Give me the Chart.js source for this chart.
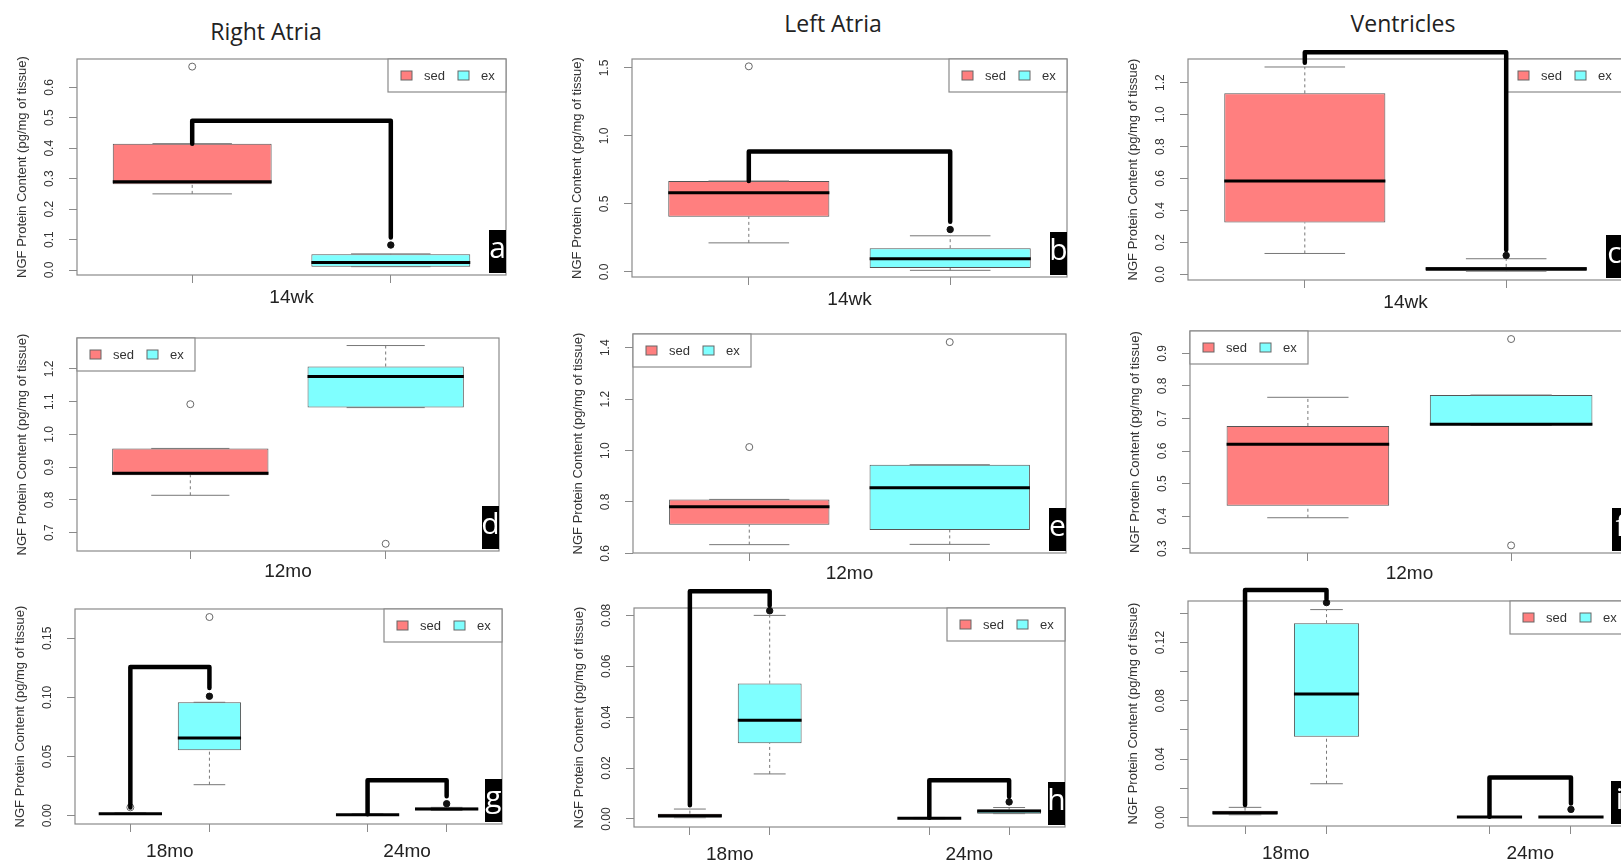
<!DOCTYPE html>
<html lang="en">
<head>
    <meta charset="UTF-8">
    <title>NGF Protein Content - Right Atria, Left Atria, Ventricles</title>
    <script src="https://cdn.jsdelivr.net/npm/chart.js"></script>
    <style>
        body {
            margin: 0;
            width: 1621px;
            height: 861px;
            overflow: hidden;
            position: relative;
            background: #fff;
        }

        .col-title {
            position: absolute;
            transform: translate(-50%, -50%);
            font-family: "Open Sans", sans-serif;
            font-size: 23px;
            color: #222;
            white-space: nowrap;
        }

        canvas {
            position: absolute;
        }
    </style>
</head>
<body>
    <div class="col-title" style="left: 266px; top: 31px;">Right Atria</div>
    <div class="col-title" style="left: 833px; top: 23px;">Left Atria</div>
    <div class="col-title" style="left: 1403px; top: 23px;">Ventricles</div>

    <script>
        // series and time points
        const seriesNames = ['sed', 'ex'];
        const seriesColors = ['#ff7f7f', '#7fffff'];
        const groupsWk = ['14wk'];
        const groupsMo = ['12mo'];
        const groupsOld = ['18mo', '24mo'];

        // boxes: [lower whisker, Q1, median, Q3, upper whisker], one row per time point
        // sig: [bracket start on sed, bracket top, bracket end on ex, dot on ex]

        // a - Right Atria 14wk
        const sedA = [[0.25, 0.282, 0.29, 0.415, 0.415]];
        const exA = [[0.011, 0.011, 0.025, 0.0515, 0.053]];
        const sedOutA = [[0.668]];
        const exOutA = [[]];
        const sigA = [[0.415, 0.49, 0.107, 0.082]];
        const yLimA = [-0.0164, 0.693];
        const yTicksA = [0, 0.1, 0.2, 0.3, 0.4, 0.5, 0.6];
        const yLabelsA = ['0.0', '0.1', '0.2', '0.3', '0.4', '0.5', '0.6'];

        // b - Left Atria 14wk
        const sedB = [[0.214, 0.406, 0.583, 0.669, 0.669]];
        const exB = [[0.012, 0.0295, 0.098, 0.175, 0.266]];
        const sedOutB = [[1.512]];
        const exOutB = [[]];
        const sigB = [[0.669, 0.885, 0.369, 0.312]];
        const yLimB = [-0.037, 1.566];
        const yTicksB = [0, 0.5, 1.0, 1.5];
        const yLabelsB = ['0.0', '0.5', '1.0', '1.5'];

        // c - Ventricles 14wk
        const sedC = [[0.131, 0.325, 0.585, 1.133, 1.298]];
        const exC = [[0.02, 0.022, 0.035, 0.047, 0.098]];
        const sedOutC = [[]];
        const exOutC = [[]];
        const sigC = [[1.325, 1.39, 0.152, 0.119]];
        const yLimC = [-0.035, 1.348];
        const yTicksC = [0, 0.2, 0.4, 0.6, 0.8, 1.0, 1.2];
        const yLabelsC = ['0.0', '0.2', '0.4', '0.6', '0.8', '1.0', '1.2'];

        // d - Right Atria 12mo
        const sedD = [[0.814, 0.8755, 0.881, 0.957, 0.957]];
        const exD = [[1.0816, 1.0816, 1.1765, 1.207, 1.271]];
        const sedOutD = [[1.092]];
        const exOutD = [[0.666]];
        const sigD = [null];
        const yLimD = [0.644, 1.294];
        const yTicksD = [0.7, 0.8, 0.9, 1.0, 1.1, 1.2];
        const yLabelsD = ['0.7', '0.8', '0.9', '1.0', '1.1', '1.2'];

        // e - Left Atria 12mo
        const sedE = [[0.634, 0.7115, 0.7815, 0.81, 0.81]];
        const exE = [[0.635, 0.691, 0.855, 0.945, 0.945]];
        const sedOutE = [[1.0137]];
        const exOutE = [[1.422]];
        const sigE = [null];
        const yLimE = [0.6015, 1.4535];
        const yTicksE = [0.6, 0.8, 1.0, 1.2, 1.4];
        const yLabelsE = ['0.6', '0.8', '1.0', '1.2', '1.4'];

        // f - Ventricles 12mo
        const sedF = [[0.395, 0.432, 0.621, 0.677, 0.765]];
        const exF = [[0.6795, 0.6795, 0.6826, 0.772, 0.772]];
        const sedOutF = [[]];
        const exOutF = [[0.944, 0.31]];
        const sigF = [null];
        const yLimF = [0.2867, 0.9687];
        const yTicksF = [0.3, 0.4, 0.5, 0.6, 0.7, 0.8, 0.9];
        const yLabelsF = ['0.3', '0.4', '0.5', '0.6', '0.7', '0.8', '0.9'];

        // g - Right Atria 18mo / 24mo
        const sedG = [[0.0011, 0.0011, 0.0017, 0.0023, 0.0023], [0.0003, 0.0004, 0.0008, 0.0012, 0.0014]];
        const exG = [[0.0262, 0.0553, 0.0657, 0.0959, 0.0959], [0.0045, 0.0045, 0.0056, 0.007, 0.007]];
        const sedOutG = [[0.007], []];
        const exOutG = [[0.168], []];
        const sigG = [[0.007, 0.1257, 0.108, 0.101], [0.0012, 0.0299, 0.0164, 0.0101]];
        const yLimG = [-0.00705, 0.1748];
        const yTicksG = [0, 0.05, 0.10, 0.15];
        const yLabelsG = ['0.00', '0.05', '0.10', '0.15'];

        // h - Left Atria 18mo / 24mo
        const sedH = [[0.0005, 0.0005, 0.0013, 0.0021, 0.0039], [0.0001, 0.0002, 0.0003, 0.0005, 0.0006]];
        const exH = [[0.0177, 0.0298, 0.03875, 0.0532, 0.08], [0.0021, 0.0021, 0.0031, 0.0037, 0.0045]];
        const sedOutH = [[], []];
        const exOutH = [[], []];
        const sigH = [[0.0054, 0.0895, 0.0838, 0.0818], [0.0005, 0.0152, 0.0087, 0.0067]];
        const yLimH = [-0.00315, 0.0829];
        const yTicksH = [0, 0.02, 0.04, 0.06, 0.08];
        const yLabelsH = ['0.00', '0.02', '0.04', '0.06', '0.08'];

        // i - Ventricles 18mo / 24mo
        const sedI = [[0.0018, 0.0018, 0.0032, 0.0046, 0.0069], [0, 0, 0.0002, 0.0004, 0.0004]];
        const exI = [[0.0231, 0.0553, 0.0846, 0.1333, 0.1426], [0, 0, 0.0002, 0.0004, 0.0004]];
        const sedOutI = [[], []];
        const exOutI = [[], []];
        const sigI = [[0.0085, 0.156, 0.150, 0.1474], [0.0005, 0.0274, 0.0096, 0.0055]];
        const yLimI = [-0.0059, 0.1485];
        const yTicksI = [0, 0.02, 0.04, 0.06, 0.08, 0.10, 0.12, 0.14];
        const yLabelsI = ['0.00', '', '0.04', '', '0.08', '', '0.12', ''];

        const yTitle = 'NGF Protein Content (pg/mg of tissue)';

        // plot frame per panel: left, top, width, height, x label padding
        const frames = {
            a: [77, 59, 429, 216, 4],
            b: [632, 59, 435, 218, 4],
            c: [1188, 59, 435, 221, 4],
            d: [77, 338, 422, 213, 2],
            e: [633, 334, 433, 219, 2],
            f: [1190, 331, 439, 222, 2],
            g: [75, 609, 427, 215, 9],
            h: [634, 608, 431, 219, 9],
            i: [1188, 601, 440, 225, 9]
        };

        const panels = [
            { letter: 'a', groups: groupsWk, sed: sedA, ex: exA, sedOut: sedOutA, exOut: exOutA, sig: sigA, yLim: yLimA, yTicks: yTicksA, yLabels: yLabelsA, legend: 'right' },
            { letter: 'b', groups: groupsWk, sed: sedB, ex: exB, sedOut: sedOutB, exOut: exOutB, sig: sigB, yLim: yLimB, yTicks: yTicksB, yLabels: yLabelsB, legend: 'right' },
            { letter: 'c', groups: groupsWk, sed: sedC, ex: exC, sedOut: sedOutC, exOut: exOutC, sig: sigC, yLim: yLimC, yTicks: yTicksC, yLabels: yLabelsC, legend: 'right' },
            { letter: 'd', groups: groupsMo, sed: sedD, ex: exD, sedOut: sedOutD, exOut: exOutD, sig: sigD, yLim: yLimD, yTicks: yTicksD, yLabels: yLabelsD, legend: 'left' },
            { letter: 'e', groups: groupsMo, sed: sedE, ex: exE, sedOut: sedOutE, exOut: exOutE, sig: sigE, yLim: yLimE, yTicks: yTicksE, yLabels: yLabelsE, legend: 'left' },
            { letter: 'f', groups: groupsMo, sed: sedF, ex: exF, sedOut: sedOutF, exOut: exOutF, sig: sigF, yLim: yLimF, yTicks: yTicksF, yLabels: yLabelsF, legend: 'left' },
            { letter: 'g', groups: groupsOld, sed: sedG, ex: exG, sedOut: sedOutG, exOut: exOutG, sig: sigG, yLim: yLimG, yTicks: yTicksG, yLabels: yLabelsG, legend: 'right' },
            { letter: 'h', groups: groupsOld, sed: sedH, ex: exH, sedOut: sedOutH, exOut: exOutH, sig: sigH, yLim: yLimH, yTicks: yTicksH, yLabels: yLabelsH, legend: 'right' },
            { letter: 'i', groups: groupsOld, sed: sedI, ex: exI, sedOut: sedOutI, exOut: exOutI, sig: sigI, yLim: yLimI, yTicks: yTicksI, yLabels: yLabelsI, legend: 'right' }
        ];

        const sansFamily = '"Liberation Sans", Arial, sans-serif';
        const gridGrey = '#8a8a8a';
        const tickLen = 8;
        const yTickSize = 12;
        const measureCtx = document.createElement('canvas').getContext('2d');

        // frame + legend under the marks, panel letter on top
        const panelDecor = {
            id: 'panelDecor',
            beforeDatasetsDraw(chart, args, opts) {
                const { ctx, chartArea: a } = chart;
                ctx.save();
                ctx.strokeStyle = gridGrey;
                ctx.lineWidth = 1.2;
                ctx.strokeRect(a.left, a.top, a.right - a.left, a.bottom - a.top);

                const lw = 118, lh = 33;
                const lx = opts.legend === 'right' ? a.right - lw : a.left;
                const ly = a.top;
                ctx.fillStyle = '#fff';
                ctx.fillRect(lx, ly, lw, lh);
                ctx.strokeRect(lx, ly, lw, lh);
                ctx.font = '13px ' + sansFamily;
                ctx.textBaseline = 'middle';
                ctx.textAlign = 'left';
                seriesNames.forEach((name, k) => {
                    const sx = lx + 13 + k * 57;
                    ctx.fillStyle = seriesColors[k];
                    ctx.fillRect(sx, ly + lh / 2 - 4.5, 11, 9);
                    ctx.strokeStyle = '#666';
                    ctx.lineWidth = 1;
                    ctx.strokeRect(sx, ly + lh / 2 - 4.5, 11, 9);
                    ctx.fillStyle = '#333';
                    ctx.fillText(name, sx + 23, ly + lh / 2 + 0.5);
                });
                ctx.restore();
            },
            afterDatasetsDraw(chart, args, opts) {
                const { ctx, chartArea: a } = chart;
                const bw = 17, bh = 43;
                const bx = a.right - bw, by = a.bottom - 2 - bh;
                ctx.save();
                ctx.fillStyle = '#000';
                ctx.fillRect(bx, by, bw, bh);
                ctx.beginPath();
                ctx.rect(bx, by, bw, bh);
                ctx.clip();
                ctx.fillStyle = '#fff';
                ctx.font = '30px "Open Sans", sans-serif';
                ctx.textAlign = 'center';
                ctx.textBaseline = 'middle';
                ctx.fillText(opts.letter, bx + bw / 2, by + bh / 2 - 2);
                ctx.restore();
            }
        };

        function buildDatasets(p) {
            const sedBoxes = [], exBoxes = [], medians = [], stems = [], caps = [];
            const outliers = [], brackets = [], dots = [];
            p.groups.forEach((g, i) => {
                const xs = 1 + 3 * i, xe = 2 + 3 * i;
                const pairs = [[p.sed[i], xs, sedBoxes, p.sedOut[i]], [p.ex[i], xe, exBoxes, p.exOut[i]]];
                pairs.forEach(([s, x, boxes, outs]) => {
                    boxes.push({ x: x, y: [s[1], s[3]] });
                    medians.push({ x: x - 0.4, y: s[2] }, { x: x + 0.4, y: s[2] }, { x: x, y: null });
                    stems.push({ x: x, y: s[0] }, { x: x, y: s[1] }, { x: x, y: null },
                               { x: x, y: s[3] }, { x: x, y: s[4] }, { x: x, y: null });
                    caps.push({ x: x - 0.2, y: s[0] }, { x: x + 0.2, y: s[0] }, { x: x, y: null },
                              { x: x - 0.2, y: s[4] }, { x: x + 0.2, y: s[4] }, { x: x, y: null });
                    outs.forEach(v => outliers.push({ x: x, y: v }));
                });
                const sg = p.sig[i];
                if (sg) {
                    brackets.push({ x: xs, y: sg[0] }, { x: xs, y: sg[1] }, { x: xe, y: sg[1] },
                                  { x: xe, y: sg[2] }, { x: xe, y: null });
                    dots.push({ x: xe, y: sg[3] });
                }
            });

            const boxStyle = {
                type: 'bar', grouped: false, categoryPercentage: 0.8, barPercentage: 2,
                borderColor: '#555', borderWidth: 1, borderSkipped: false, order: 6
            };
            const lineStyle = { type: 'line', pointRadius: 0, pointHitRadius: 0, tension: 0, fill: false, spanGaps: false };

            return [
                Object.assign({ label: seriesNames[0], data: sedBoxes, backgroundColor: seriesColors[0] }, boxStyle),
                Object.assign({ label: seriesNames[1], data: exBoxes, backgroundColor: seriesColors[1] }, boxStyle),
                Object.assign({ label: 'stems', data: stems, borderColor: '#777', borderWidth: 1, borderDash: [3, 3], order: 7 }, lineStyle),
                Object.assign({ label: 'caps', data: caps, borderColor: '#777', borderWidth: 1, order: 5 }, lineStyle),
                Object.assign({ label: 'medians', data: medians, borderColor: '#000', borderWidth: 3, order: 3 }, lineStyle),
                {
                    type: 'scatter', label: 'outliers', data: outliers, order: 4,
                    pointStyle: 'circle', pointRadius: 3.5, pointBorderWidth: 1,
                    backgroundColor: 'rgba(0,0,0,0)', borderColor: '#666', clip: false
                },
                Object.assign({
                    label: 'brackets', data: brackets, borderColor: '#000', borderWidth: 4.5,
                    borderJoinStyle: 'round', borderCapStyle: 'round', clip: false, order: 0
                }, lineStyle),
                {
                    type: 'scatter', label: 'sig', data: dots, order: 1,
                    pointStyle: 'circle', pointRadius: 3.2, backgroundColor: '#111', borderColor: '#111', clip: false
                }
            ];
        }

        function makeChart(p) {
            const [L, T, W, H, xPad] = frames[p.letter];
            const padL = 80, padT = 40, padR = 10, padB = 46;
            const canvas = document.createElement('canvas');
            canvas.width = W + padL + padR;
            canvas.height = H + padT + padB;
            canvas.style.left = (L - padL) + 'px';
            canvas.style.top = (T - padT) + 'px';
            document.body.appendChild(canvas);

            // x axis: box positions and one centred label per time point
            const nBox = 3 * p.groups.length - 1;
            const xMin = 0.5 - 0.04 * nBox, xMax = nBox + 0.5 + 0.04 * nBox;
            const xTicks = [], xLabels = [];
            p.groups.forEach((g, i) => {
                xTicks.push(1 + 3 * i, 1.5 + 3 * i, 2 + 3 * i);
                xLabels.push('', g, '');
            });

            // keep the rotated y labels at a constant distance from the axis
            measureCtx.font = yTickSize + 'px ' + sansFamily;
            const widest = Math.max(...p.yLabels.map(t => measureCtx.measureText(t).width));
            const yPad = 27 - tickLen - widest / 2;

            return new Chart(canvas, {
                type: 'bar',
                data: { datasets: buildDatasets(p) },
                options: {
                    responsive: false,
                    animation: false,
                    layout: { padding: { top: padT, right: padR, left: 0, bottom: 0 } },
                    plugins: {
                        legend: { display: false },
                        tooltip: { enabled: false },
                        panelDecor: { letter: p.letter, legend: p.legend }
                    },
                    scales: {
                        x: {
                            type: 'linear',
                            min: xMin,
                            max: xMax,
                            offset: false,
                            afterBuildTicks: s => { s.ticks = xTicks.map(v => ({ value: v })); },
                            afterFit: s => { s.height = padB; },
                            border: { display: false },
                            grid: {
                                offset: false,
                                drawOnChartArea: false,
                                tickLength: tickLen,
                                tickColor: ctx => (ctx.tick && ctx.tick.label) ? 'rgba(0,0,0,0)' : gridGrey
                            },
                            ticks: {
                                autoSkip: false,
                                minRotation: 0,
                                maxRotation: 0,
                                padding: xPad - 1,
                                color: '#222',
                                font: { family: sansFamily, size: 19 },
                                callback: (v, i) => xLabels[i]
                            }
                        },
                        y: {
                            type: 'linear',
                            min: p.yLim[0],
                            max: p.yLim[1],
                            afterBuildTicks: s => { s.ticks = p.yTicks.map(v => ({ value: v })); },
                            afterFit: s => { s.width = padL; },
                            border: { display: false },
                            grid: { drawOnChartArea: false, tickLength: tickLen, tickColor: gridGrey },
                            ticks: {
                                autoSkip: false,
                                minRotation: 90,
                                maxRotation: 90,
                                crossAlign: 'center',
                                padding: yPad,
                                color: '#333',
                                font: { family: sansFamily, size: yTickSize },
                                callback: (v, i) => p.yLabels[i]
                            },
                            title: {
                                display: true,
                                text: yTitle,
                                color: '#333',
                                font: { family: sansFamily, size: 13 },
                                padding: { top: 18, bottom: 0 }
                            }
                        }
                    }
                },
                plugins: [panelDecor]
            });
        }

        panels.forEach(makeChart);
    </script>
</body>
</html>
